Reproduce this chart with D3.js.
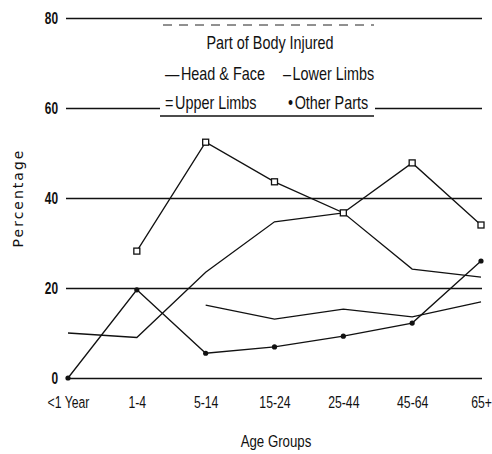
<!DOCTYPE html>
<html>
<head>
<meta charset="utf-8">
<script src="https://cdn.jsdelivr.net/npm/d3@7"></script>
<style>
  body { margin: 0; background: #fff; }
  svg { display: block; }
  .narrow { font-family: 'Liberation Sans', Arial, sans-serif; }
</style>
</head>
<body>
<svg id="chart" width="492" height="454"></svg>
<script>
// age groups on the x axis
const categories = ["<1 Year", "1-4", "5-14", "15-24", "25-44", "45-64", "65+"];
const yTicks = [0, 20, 40, 60, 80];

// percentages (null = no point drawn)
const headFace   = [10, 9, 23.5, 34.7, 36.7, 24.2, 22.4];
const lowerLimbs = [null, null, 16.2, 13.1, 15.3, 13.6, 16.9];
const upperLimbs = [null, 28.2, 52.4, 43.6, 36.7, 47.8, 34];
const otherParts = [0, 19.6, 5.5, 6.9, 9.3, 12.2, 26];

const svg = d3.select("#chart");
const margin = { top: 18, right: 11, bottom: 76, left: 68 };
const W = +svg.attr("width"), H = +svg.attr("height");

svg.append("rect").attr("width", W).attr("height", H).attr("fill", "#fff");

const x = d3.scalePoint().domain(categories).range([margin.left, W - margin.right]);
const y = d3.scaleLinear().domain([0, 80]).range([H - margin.bottom, margin.top]);

// no narrow font installed, so squeeze the sans horizontally
const kTick = 0.7;

// y axis: labels + horizontal grid lines
const yAxis = svg.append("g")
  .attr("class", "narrow")
  .attr("transform", "translate(66,0)")
  .call(d3.axisLeft(y).tickValues(yTicks).tickSize(-(W - margin.right + 1 - 66)).tickPadding(8));
yAxis.select(".domain").remove();
yAxis.selectAll(".tick line").attr("stroke", "#111").attr("stroke-width", 1.4);
yAxis.selectAll(".tick text")
  .attr("x", -8 / kTick)
  .attr("transform", "scale(" + kTick + ",1)")
  .attr("fill", "#111").style("font-size", "17px").style("font-weight", "bold");

// x axis: labels only
const xAxis = svg.append("g")
  .attr("class", "narrow")
  .attr("transform", "translate(0," + y(0) + ")")
  .call(d3.axisBottom(x).tickSize(0).tickPadding(18));
xAxis.select(".domain").remove();
xAxis.selectAll(".tick text")
  .attr("transform", "scale(0.72,1)")
  .attr("fill", "#111").style("font-size", "17px");

// legend box (white, sits over the 60 grid line)
const lg = svg.append("g").attr("class", "narrow");
lg.append("rect").attr("x", 160).attr("y", 25).attr("width", 215).attr("height", 91).attr("fill", "#fff");
lg.append("line").attr("x1", 163).attr("x2", 374).attr("y1", 25).attr("y2", 25)
  .attr("stroke", "#222").attr("stroke-width", 1).attr("stroke-dasharray", "9,7");
lg.append("line").attr("x1", 160).attr("x2", 374).attr("y1", 116).attr("y2", 116)
  .attr("stroke", "#111").attr("stroke-width", 1.4);

const kLeg = 0.8;
lg.append("g").attr("transform", "translate(270,49) scale(" + kLeg + ",1)")
  .append("text").attr("text-anchor", "middle")
  .style("font-size", "18px").attr("fill", "#111").text("Part of Body Injured");

const legendItems = [
  { sym: "\u2014", label: "Head & Face", x: 165, y: 80 },
  { sym: "\u2013", label: "Lower Limbs", x: 283, y: 80 },
  { sym: "=", label: "Upper Limbs", x: 165, y: 109 },
  { sym: "\u2022", label: "Other Parts", x: 288, y: 109 }
];
legendItems.forEach(d => {
  const t = lg.append("g").attr("transform", "translate(" + d.x + "," + d.y + ") scale(" + kLeg + ",1)")
    .append("text").style("font-size", "18px").attr("fill", "#111");
  t.append("tspan").text(d.sym);
  t.append("tspan").attr("dx", 2).text(d.label);
});

// series lines
const line = d3.line()
  .defined(d => d != null)
  .x((d, i) => x(categories[i]))
  .y(d => y(d));

const series = [
  { name: "Head & Face", values: headFace },
  { name: "Lower Limbs", values: lowerLimbs },
  { name: "Upper Limbs", values: upperLimbs },
  { name: "Other Parts", values: otherParts }
];

svg.append("g").selectAll("path")
  .data(series)
  .join("path")
  .attr("d", d => line(d.values))
  .attr("fill", "none")
  .attr("stroke", "#111")
  .attr("stroke-width", 1.3);

// square markers for upper limbs
svg.append("g").selectAll("rect")
  .data(upperLimbs.map((v, i) => ({ v, i })).filter(d => d.v != null))
  .join("rect")
  .attr("x", d => x(categories[d.i]) - 3)
  .attr("y", d => y(d.v) - 3)
  .attr("width", 6).attr("height", 6)
  .attr("fill", "#fff").attr("stroke", "#111").attr("stroke-width", 1.3);

// dot markers for other parts
svg.append("g").selectAll("circle")
  .data(otherParts.map((v, i) => ({ v, i })))
  .join("circle")
  .attr("cx", d => x(categories[d.i]))
  .attr("cy", d => y(d.v))
  .attr("r", 2.6)
  .attr("fill", "#111");

// axis titles
svg.append("text")
  .attr("transform", "translate(23,198) rotate(-90)")
  .attr("text-anchor", "middle")
  .style("font-family", "'DejaVu Sans', sans-serif")
  .style("font-size", "14px")
  .style("letter-spacing", "2px")
  .attr("fill", "#111")
  .text("Percentage");

svg.append("g").attr("transform", "translate(276,447) scale(0.78,1)")
  .append("text").attr("class", "narrow")
  .attr("text-anchor", "middle")
  .style("font-size", "17px")
  .attr("fill", "#111")
  .text("Age Groups");
</script>
</body>
</html>
